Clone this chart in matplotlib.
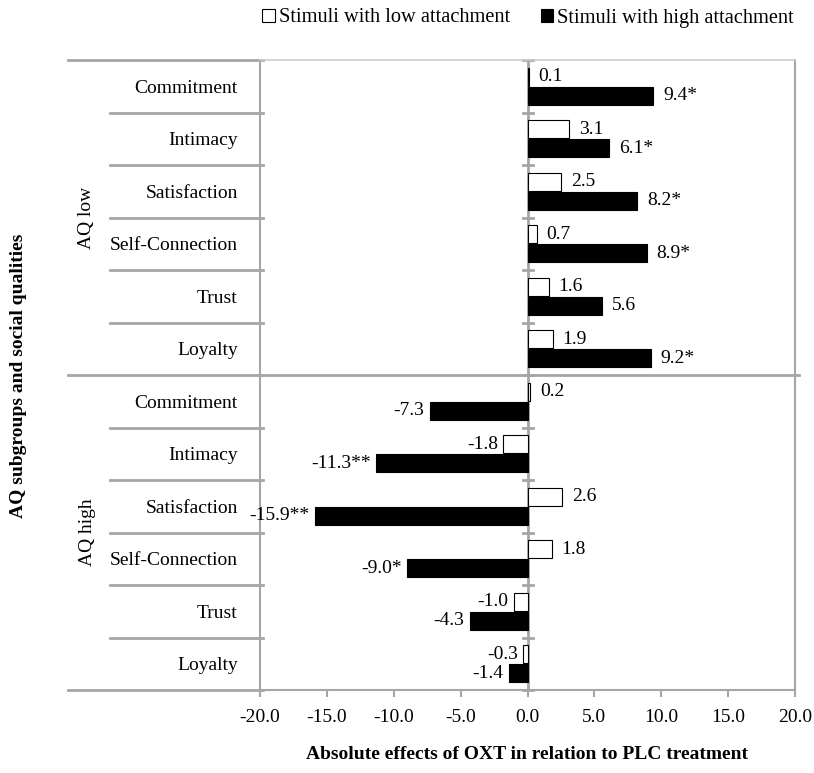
import numpy as np
import matplotlib
matplotlib.use("Agg")
import matplotlib.pyplot as plt
from matplotlib.patches import Patch
from matplotlib.transforms import blended_transform_factory

plt.rcParams['font.family'] = ['Liberation Serif', 'DejaVu Serif']
plt.rcParams['axes.unicode_minus'] = False

groups = ["AQ low", "AQ high"]
qualities = ["Commitment", "Intimacy", "Satisfaction", "Self-Connection", "Trust", "Loyalty"]

low_att = [0.1, 3.1, 2.5, 0.7, 1.6, 1.9,
           0.2, -1.8, 2.6, 1.8, -1.0, -0.3]
high_att = [9.4, 6.1, 8.2, 8.9, 5.6, 9.2,
            -7.3, -11.3, -15.9, -9.0, -4.3, -1.4]
low_sig = [""] * 12
high_sig = ["*", "*", "*", "*", "", "*",
            "", "**", "**", "*", "", ""]

xticks = [-20, -15, -10, -5, 0, 5, 10, 15, 20]

gray = "#a6a6a6"
fs = 14

fig = plt.figure(figsize=(8.14, 7.73), dpi=100)
ax = fig.add_axes([260 / 814, 83 / 773, 535 / 814, 630 / 773])

n = len(low_att)
y = np.arange(n) + 0.5
h = 0.34

ax.barh(y - 0.18, low_att, height=h, color="white", edgecolor="black", linewidth=0.8, zorder=3)
ax.barh(y + 0.18, high_att, height=h, color="black", edgecolor="black", linewidth=0.8, zorder=3)

# value labels next to bar ends
for yy, vals, sigs in [(y - 0.18, low_att, low_sig), (y + 0.18, high_att, high_sig)]:
    for yi, v, s in zip(yy, vals, sigs):
        off = 7 if v >= 0 else -4
        ax.annotate(f"{v:.1f}{s}", (v, yi), xytext=(off, 0), textcoords="offset points",
                    ha="left" if v >= 0 else "right", va="center", fontsize=fs, zorder=4)

ax.set_xlim(-20, 20)
ax.set_ylim(n, 0)
ax.set_xticks(xticks)
ax.set_xticklabels([f"{t:.1f}" for t in xticks], fontsize=fs)
ax.tick_params(axis="x", length=5, width=1.5, color=gray, pad=9)
ax.set_yticks(y)
ax.set_yticklabels(qualities * 2, fontsize=fs)
ax.tick_params(axis="y", length=0, pad=16)

for side in ["left", "bottom", "right"]:
    ax.spines[side].set_color(gray)
    ax.spines[side].set_linewidth(1.5)
ax.spines["top"].set_color("#cccccc")
ax.spines["top"].set_linewidth(1.2)

# zero line with boundary ticks
ax.axvline(0, color=gray, lw=2, zorder=2)
tr = blended_transform_factory(ax.transAxes, ax.transData)
half = 5 / 535
for b in range(0, n + 1):
    ax.plot([0.5 - half, 0.5 + half], [b, b], transform=tr, color=gray, lw=2, clip_on=False, zorder=2)

# category table on the left
for b in range(1, n):
    if b == 6:
        continue
    ax.plot([-150 / 535, 3 / 535], [b, b], transform=tr, color=gray, lw=2, clip_on=False)
for b in [0, 6, 12]:
    ax.plot([-192 / 535, 3 / 535], [b, b], transform=tr, color=gray, lw=2, clip_on=False)
ax.plot([0, 1.0 + 4 / 535], [6, 6], transform=tr, color=gray, lw=2, clip_on=False)

for gi, g in enumerate(groups):
    ax.text(-173 / 535, 3 + 6 * gi, g, transform=tr, rotation=90, ha="center", va="center", fontsize=fs)

ax.set_xlabel("Absolute effects of OXT in relation to PLC treatment", fontsize=fs,
              fontweight="bold", labelpad=14)
fig.text(19 / 814, 1 - 376 / 773, "AQ subgroups and social qualities", rotation=90,
         ha="center", va="center", fontsize=fs, fontweight="bold")

handles = [Patch(facecolor="white", edgecolor="black", linewidth=0.8),
           Patch(facecolor="black", edgecolor="black", linewidth=0.8)]
fig.legend(handles, ["Stimuli with low attachment", "Stimuli with high attachment"],
           loc="center", bbox_to_anchor=(528 / 814, 1 - 18 / 773), ncol=2, frameon=False,
           fontsize=14.7, handlelength=0.6, handleheight=0.6, handletextpad=0.2, columnspacing=1.5)

fig.savefig("out.png", dpi=100)
